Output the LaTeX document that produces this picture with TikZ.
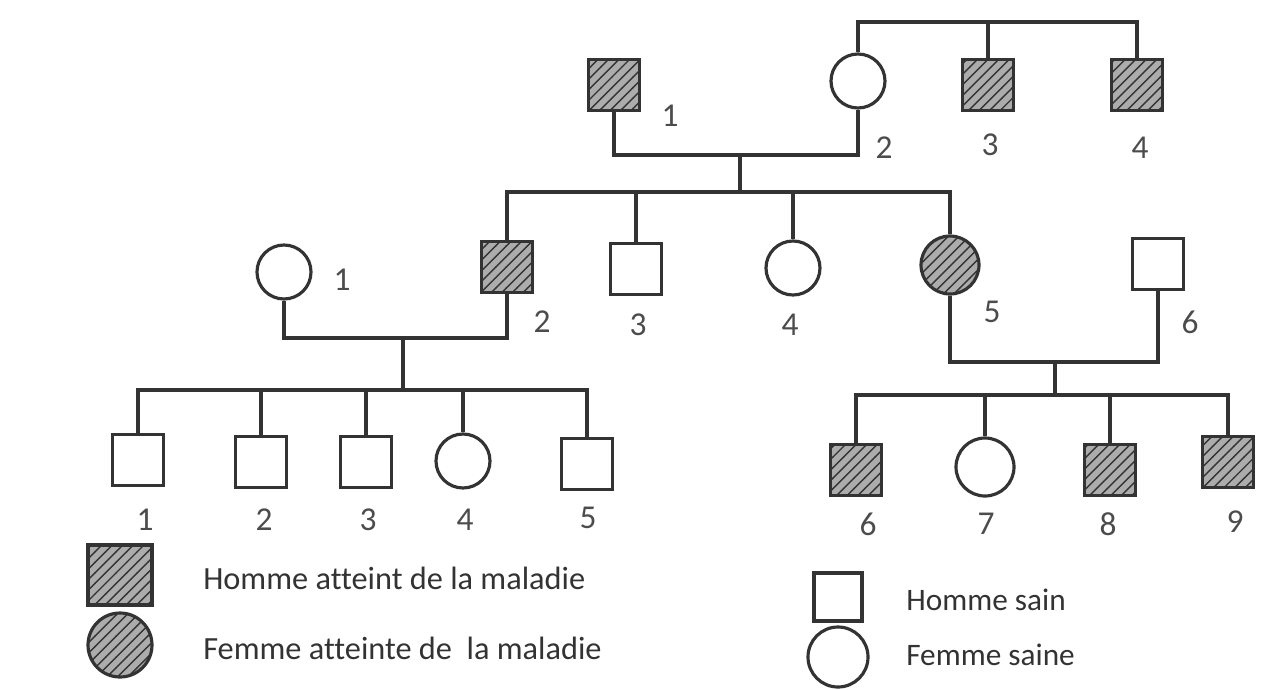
\documentclass[tikz,border=0pt]{standalone}
\usepackage{fontspec}
\setmainfont{Carlito}[Ligatures=NoCommon]
\usetikzlibrary{patterns}

\begin{document}
\begin{tikzpicture}[
  x=0.1mm, y=-0.1mm,
  color=black!80, line width=0.9pt,
  male/.style={draw, rectangle, minimum size=5.1mm, inner sep=0pt},
  female/.style={draw, circle, minimum size=5.4mm, inner sep=0pt},
  sick/.style={preaction={fill=gray!65}, pattern=north east lines, pattern color=black!80},
  num/.style={text=black!70, font=\fontsize{9.5}{10}\selectfont},
  keytext/.style={anchor=west, text=black!80, font=\fontsize{9.2}{11}\selectfont},
]
\useasboundingbox (0,0) rectangle (1263,689);

% generation I
\node [male, sick] (i1) at (614,85) {};
\node [female] (i2) at (858,81) {};
\node [male, sick] (i3) at (988,85) {};
\node [male, sick] (i4) at (1137,85) {};
\node [num] (n-i1) at (670,116) {1};
\node [num] (n-i2) at (884,148) {2};
\node [num] (n-i3) at (990,145) {3};
\node [num] (n-i4) at (1140,148) {4};

\coordinate (top) at (988,22);
\coordinate (c1) at (740,155);
\coordinate (s1) at (740,192);
\draw (i2.north) |- (top) -| (i4.north);
\draw (i3.north) -- (top);
\draw (i1.south) |- (c1) -| (i2.south);
\draw (c1) -- (s1);

% generation II
\node [female] (ii1) at (284,272) {};
\node [male, sick] (ii2) at (507,267) {};
\node [male] (ii3) at (636,269) {};
\node [female] (ii4) at (793,268) {};
\node [female, sick, minimum size=5.8mm] (ii5) at (950,265) {};
\node [male] (ii6) at (1158,264) {};
\node [num] (n-ii1) at (342,280) {1};
\node [num] (n-ii2) at (542,322) {2};
\node [num] (n-ii3) at (638,325) {3};
\node [num] (n-ii4) at (790,325) {4};
\node [num] (n-ii5) at (992,312) {5};
\node [num] (n-ii6) at (1190,322) {6};

\draw (ii2.north) |- (s1) -| (ii5.north);
\draw (ii3.north) -- (ii3.north |- s1);
\draw (ii4.north) -- (ii4.north |- s1);

\coordinate (c2) at (403,338);
\coordinate (s2) at (403,390);
\draw (ii1.south) |- (c2) -| (ii2.south);
\draw (c2) -- (s2);

\coordinate (c3) at (1055,362);
\coordinate (s3) at (1055,395);
\draw (ii5.south) |- (c3) -| (ii6.south);
\draw (c3) -- (s3);

% generation III
\node [male] (iii1) at (138,460) {};
\node [male] (iii2) at (261,462) {};
\node [male] (iii3) at (366,462) {};
\node [female] (iii4) at (463,461) {};
\node [male] (iii5) at (587,464) {};
\node [male, sick] (iii6) at (856,470) {};
\node [female, minimum size=5.8mm] (iii7) at (985,467) {};
\node [male, sick] (iii8) at (1110,470) {};
\node [male, sick] (iii9) at (1228,462) {};
\node [num] (n-iii1) at (145,520) {1};
\node [num] (n-iii2) at (264,520) {2};
\node [num] (n-iii3) at (368,520) {3};
\node [num] (n-iii4) at (465,520) {4};
\node [num] (n-iii5) at (588,518) {5};
\node [num] (n-iii6) at (868,524) {6};
\node [num] (n-iii7) at (986,524) {7};
\node [num] (n-iii8) at (1108,524) {8};
\node [num] (n-iii9) at (1235,522) {9};

\draw (iii1.north) |- (s2) -| (iii5.north);
\draw (iii2.north) -- (iii2.north |- s2);
\draw (iii3.north) -- (iii3.north |- s2);
\draw (iii4.north) -- (iii4.north |- s2);

\draw (iii6.north) |- (s3) -| (iii9.north);
\draw (iii7.north) -- (iii7.north |- s3);
\draw (iii8.north) -- (iii8.north |- s3);

% key
\node [male, sick, minimum width=6.4mm, minimum height=6mm] (key1) at (120,575) {};
\node [female, sick, minimum size=6.4mm] (key2) at (120,645) {};
\node [keytext] (t1) at (190,578) {Homme atteint de la maladie};
\node [keytext] (t2) at (190,648) {Femme atteinte de\ \ la maladie};
\node [male, minimum size=4.8mm] (key3) at (838,597) {};
\node [female, minimum size=6mm] (key4) at (838,657) {};
\node [keytext, font=\fontsize{8.9}{11}\selectfont] (t3) at (893,600) {Homme sain};
\node [keytext, font=\fontsize{8.9}{11}\selectfont] (t4) at (893,655) {Femme saine};
\end{tikzpicture}
\end{document}
